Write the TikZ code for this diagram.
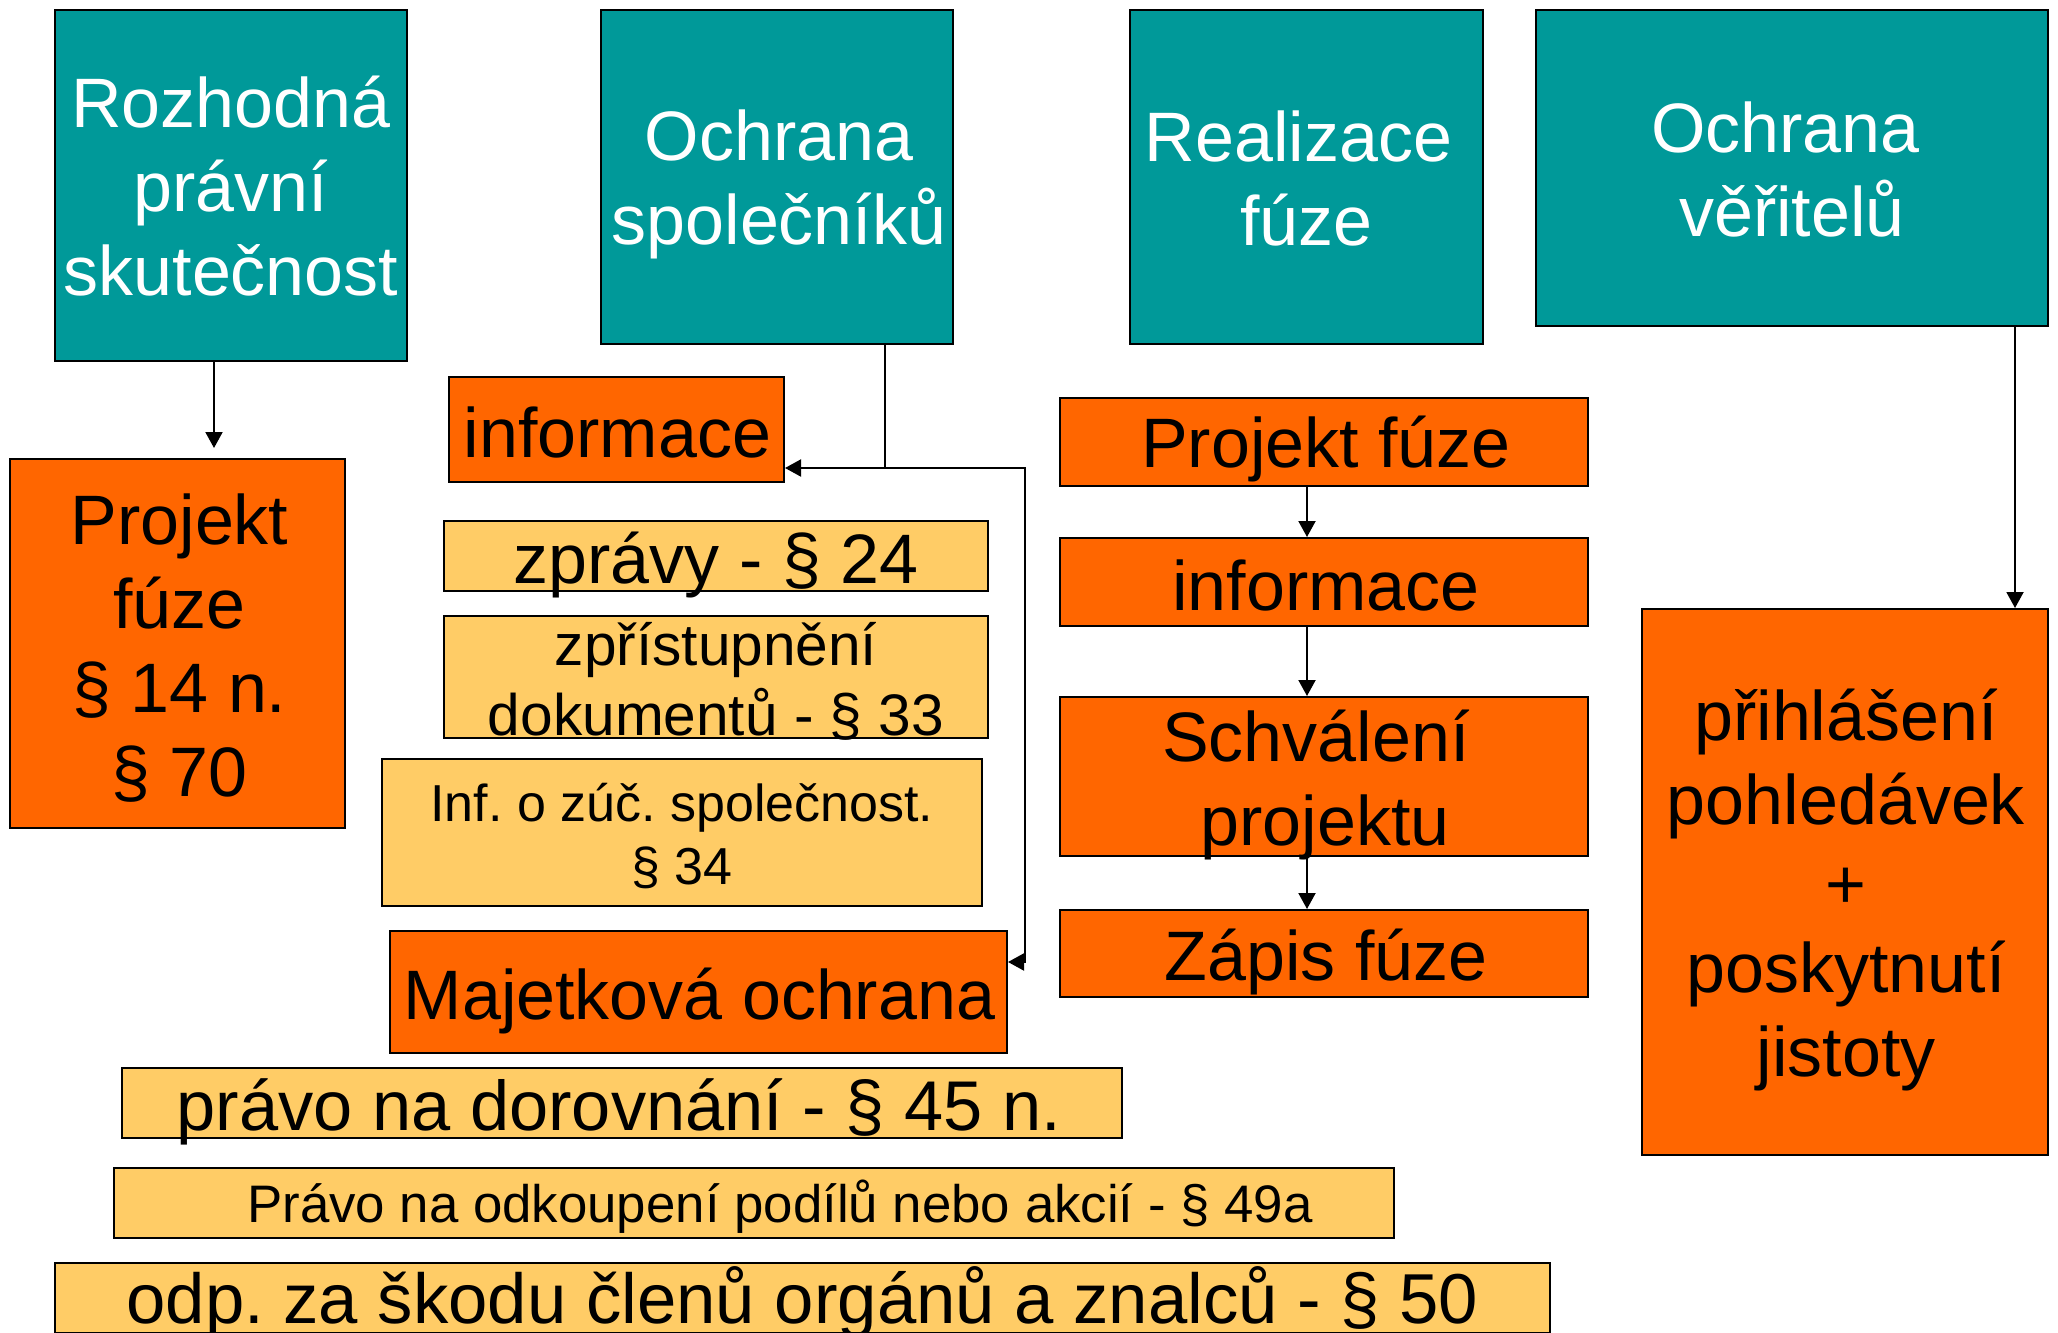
\documentclass[tikz,border=0pt]{standalone}
\usepackage{fontspec}
\setmainfont{Liberation Sans}
\usetikzlibrary{arrows.meta,calc}
\frenchspacing
\definecolor{tealbox}{RGB}{0,153,153}
\definecolor{orangebox}{RGB}{255,102,0}
\definecolor{lightbox}{RGB}{255,204,102}
\tikzset{
  basebox/.style={draw=black, line width=1pt, inner sep=0pt},
  tealnode/.style={basebox, fill=tealbox},
  orangenode/.style={basebox, fill=orangebox},
  lightnode/.style={basebox, fill=lightbox},
  btext/.style={inner sep=0pt, align=center, text=black,
    font=\fontsize{35}{42}\selectfont},
  wtext/.style={btext, text=white},
  conn/.style={line width=1pt, draw=black},
  arr/.style={conn, -{Triangle[length=8pt,width=8.5pt]}}
}
\begin{document}
\begin{tikzpicture}[x=0.5pt,y=-0.5pt]
\useasboundingbox (0,0) rectangle (2058,1333);
% header boxes
\node[tealnode, minimum width=176pt, minimum height=175.5pt] (t1) at (231,185.5) {};
\node[wtext] (t1t) at ($(t1)+(0,1)$) {Rozhodná\\právní\\skutečnost};
\node[tealnode, minimum width=176pt, minimum height=167pt] (t2) at (777,177) {};
\node[wtext] (t2t) at ($(t2)+(2,7)$) {Ochrana\\společníků};
\node[tealnode, minimum width=176.5pt, minimum height=167pt] (t3) at (1306.5,177) {};
\node[wtext] (t3t) at ($(t3)+(0,1)$) {Realizace\hspace*{8pt}\\fúze};
\node[tealnode, minimum width=256pt, minimum height=158pt] (t4) at (1792,168) {};
\node[wtext] (t4t) at ($(t4)+(0,1)$) {Ochrana\hspace*{6.5pt}\\věřitelů};
% left column
\node[orangenode, minimum width=167.5pt, minimum height=184.5pt] (pf1) at (177.5,643.5) {};
\node[btext] (pf1t) at ($(pf1)+(2,5)$) {Projekt\\fúze\\§ 14 n.\\§ 70};
% second column
\node[orangenode, minimum width=167.5pt, minimum height=52.5pt] (inf1) at (616.5,429.5) {};
\node[btext] (inf1t) at ($(inf1)+(1,3)$) {informace};
\node[lightnode, minimum width=272pt, minimum height=35pt] (zpr) at (716,556) {};
\node[btext] (zprt) at ($(zpr)+(0,9)$) {zprávy - § 24};
\node[lightnode, minimum width=272pt, minimum height=61pt] (zpd) at (716,677) {};
\node[btext, font=\fontsize{29.3}{35}\selectfont] (zpdt) at ($(zpd)+(0,4)$) {zpřístupnění\\dokumentů - § 33};
\node[lightnode, minimum width=300pt, minimum height=73.5pt] (infz) at (682,832.5) {};
\node[btext, font=\fontsize{26}{31.5}\selectfont] (infzt) at ($(infz)+(0,4)$) {Inf. o zúč. společnost.\\§ 34};
\node[orangenode, minimum width=308.5pt, minimum height=61pt] (maj) at (698.5,992) {};
\node[btext] (majt) at ($(maj)+(1,9)$) {Majetková ochrana};
\node[lightnode, minimum width=500pt, minimum height=35pt] (pravo) at (622,1103) {};
\node[btext, font=\fontsize{35.2}{42}\selectfont] (pravot) at ($(pravo)+(-3,9)$) {právo na dorovnání - § 45 n.};
\node[lightnode, minimum width=640pt, minimum height=35pt] (odkup) at (754,1203) {};
\node[btext, font=\fontsize{26.4}{31}\selectfont] (odkupt) at ($(odkup)+(26,4)$) {Právo na odkoupení podílů nebo akcií - § 49a};
\node[lightnode, minimum width=747.5pt, minimum height=35pt] (odp) at (802.5,1297.5) {};
\node[btext, font=\fontsize{35.35}{42}\selectfont] (odpt) at ($(odp)+(0,5)$) {odp. za škodu členů orgánů a znalců - § 50};
% third column
\node[orangenode, minimum width=264pt, minimum height=44pt] (pf2) at (1324,442) {};
\node[btext] (pf2t) at ($(pf2)+(2,7)$) {Projekt fúze};
\node[orangenode, minimum width=264pt, minimum height=44pt] (inf2) at (1324,582) {};
\node[btext] (inf2t) at ($(inf2)+(2,3)$) {informace};
\node[orangenode, minimum width=264pt, minimum height=79.5pt] (schv) at (1324,776.5) {};
\node[btext] (schvt) at ($(schv)+(1,8)$) {Schválení\hspace*{9pt}\\projektu};
\node[orangenode, minimum width=264pt, minimum height=43.5pt] (zap) at (1324,953.5) {};
\node[btext] (zapt) at ($(zap)+(2,8)$) {Zápis fúze};
% fourth column
\node[orangenode, minimum width=203pt, minimum height=273pt] (prihl) at (1845,882) {};
\node[btext] (prihlt) at ($(prihl)+(1,8)$) {přihlášení\\pohledávek\\+\\poskytnutí\\jistoty};
% connectors
\coordinate (a1) at ($(t1.south)+(-17,0)$);
\draw[arr, shorten >=5pt] (a1) -- (a1 |- pf1.north);
\coordinate (j2) at ($(t2.south)+(108,0)$);
\coordinate (j2b) at ($(j2)+(0,123)$);
\coordinate (mj) at ($(maj.east)+(0,-30)$);
\coordinate (k2) at ($(mj)+(17,0)$);
\draw[conn] (j2) -- (j2b);
\draw[arr] (j2b) -- (j2b -| inf1.east);
\draw[arr] (j2b) -| (k2) -- (mj);
\coordinate (r1) at ($(pf2.south)+(-17,0)$);
\draw[arr] (r1) -- (r1 |- inf2.north);
\coordinate (r2) at ($(inf2.south)+(-17,0)$);
\draw[arr] (r2) -- (r2 |- schv.north);
\coordinate (r3) at ($(schv.south)+(-17,0)$);
\draw[arr] (r3) -- (r3 |- zap.north);
\coordinate (a4) at ($(t4.south)+(223,0)$);
\draw[arr] (a4) -- (a4 |- prihl.north);
\end{tikzpicture}
\end{document}
